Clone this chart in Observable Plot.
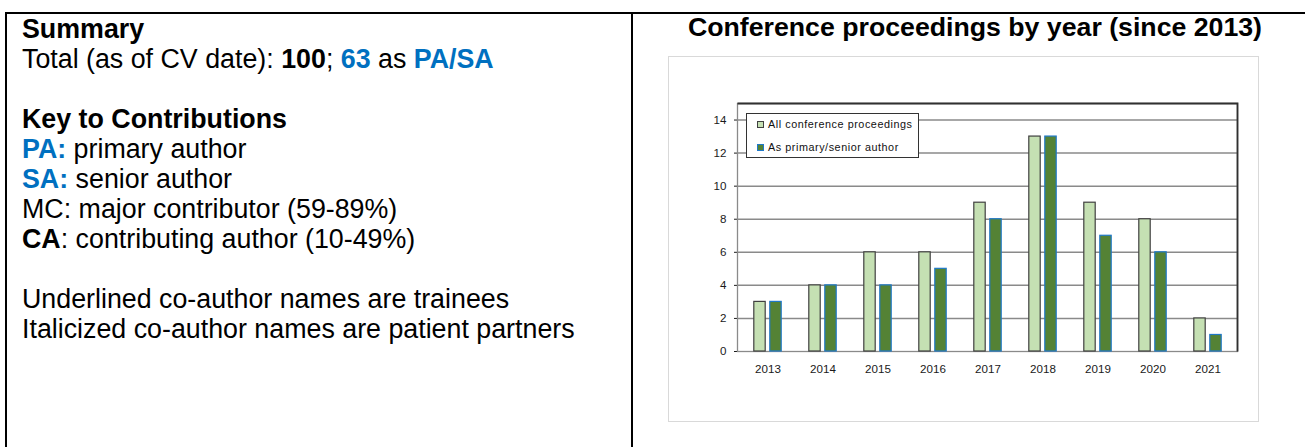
<!DOCTYPE html>
<html>
<head>
<meta charset="utf-8">
<script src="https://cdn.jsdelivr.net/npm/d3@7"></script>
<script src="https://cdn.jsdelivr.net/npm/@observablehq/plot@0.6"></script>
<style>
  html, body { margin: 0; padding: 0; background: #fff; }
  body { width: 1305px; height: 447px; overflow: hidden; position: relative; font-family: "Liberation Sans", Arial, sans-serif; color: #000; }
  .hline { position: absolute; background: #000; }
  .left-text { position: absolute; left: 22px; top: 14px; font-size: 26.8px; line-height: 30px; white-space: nowrap; }
  .left-text b { font-weight: bold; }
  .blue { color: #0070c0; }
  .title { position: absolute; left: 631px; width: 688px; top: 12px; text-align: center; font-size: 26.7px; line-height: 31px; font-weight: bold; white-space: nowrap; }
  .chartbox { position: absolute; left: 668px; top: 56px; width: 591px; height: 366px; box-sizing: border-box; border: 1.5px solid #d9d9d9; }
  .chart { position: absolute; left: 668px; top: 56px; }
  .legend { position: absolute; left: 746px; top: 113px; width: 173px; height: 45px; box-sizing: border-box; border: 1.3px solid #333; background: #fff; font-family: "Liberation Sans", Arial, sans-serif; font-size: 10.8px; letter-spacing: 0.55px; color: #111; }
  .legend .row { position: absolute; left: 10px; display: flex; align-items: center; white-space: nowrap; }
  .legend .sw { width: 7px; height: 7px; box-sizing: border-box; margin-right: 4px; }
</style>
</head>
<body>
<div class="hline" style="left:5px;top:12px;width:1300px;height:1.5px;"></div>
<div class="hline" style="left:5px;top:12px;width:1.5px;height:435px;"></div>
<div class="hline" style="left:631px;top:12px;width:1.5px;height:435px;"></div>

<div class="left-text">
  <div><b>Summary</b></div>
  <div>Total (as of CV date): <b>100</b>; <b class="blue">63</b> as <b class="blue">PA/SA</b></div>
  <div>&nbsp;</div>
  <div><b>Key to Contributions</b></div>
  <div><b class="blue">PA:</b> primary author</div>
  <div><b class="blue">SA:</b> senior author</div>
  <div>MC: major contributor (59-89%)</div>
  <div><b>CA</b>: contributing author (10-49%)</div>
  <div>&nbsp;</div>
  <div>Underlined co-author names are trainees</div>
  <div>Italicized co-author names are patient partners</div>
</div>

<div class="title">Conference proceedings by year (since 2013)</div>
<div class="chartbox"></div>
<div class="chart" id="chart"></div>
<div class="legend" id="legend"></div>

<script>
// ---- data ----
const years = ["2013", "2014", "2015", "2016", "2017", "2018", "2019", "2020", "2021"];
const allProceedings = [3, 4, 6, 6, 9, 13, 9, 8, 2];
const primarySenior = [3, 4, 4, 5, 8, 13, 7, 6, 1];
const seriesNames = ["All conference proceedings", "As primary/senior author"];
const seriesFill = ["#c5e0b3", "#548235"];
const seriesStroke = ["#404040", "#1f78c8"];
const yTicks = [0, 2, 4, 6, 8, 10, 12, 14];

const allRows = years.map((y, i) => ({ year: y, value: allProceedings[i], series: seriesNames[0] }));
const primaryRows = years.map((y, i) => ({ year: y, value: primarySenior[i], series: seriesNames[1] }));

const width = 591, height = 366;
const marginLeft = 69, marginRight = 22, marginTop = 47, marginBottom = 71;
const W = width - marginLeft - marginRight, H = height - marginTop - marginBottom;

const chart = Plot.plot({
  width, height, marginLeft, marginRight, marginTop, marginBottom,
  style: { fontFamily: "'Liberation Sans', Arial, sans-serif", fontSize: "11.6px", color: "#1a1a1a", background: "transparent", overflow: "visible" },
  x: { domain: years, padding: 0, tickSize: 0, tickPadding: 13, label: null },
  y: { domain: [0, 15], ticks: yTicks, tickSize: 3, tickPadding: 8, label: null },
  marks: [
    Plot.ruleY(yTicks.filter(t => t > 0), { stroke: "#8a8a8a", strokeWidth: 1.5 }),
    Plot.frame({ stroke: "#8a8a8a", strokeWidth: 1.3 }),
    Plot.frame({ stroke: "#303030", strokeWidth: 1.8, strokeDasharray: `${W + H} ${W + H}` }),
    Plot.barY(allRows, { x: "year", y: "value", fill: seriesFill[0], stroke: seriesStroke[0], strokeWidth: 1.2, insetLeft: 13.8, insetRight: 29.8 }),
    Plot.barY(primaryRows, { x: "year", y: "value", fill: seriesFill[1], stroke: seriesStroke[1], strokeWidth: 1.2, insetLeft: 29.8, insetRight: 13.8 })
  ]
});
document.getElementById("chart").appendChild(chart);

// legend
const legend = document.getElementById("legend");
seriesNames.forEach((name, i) => {
  const row = document.createElement("div");
  row.className = "row";
  row.style.top = (i === 0 ? 4 : 27) + "px";
  const sw = document.createElement("span");
  sw.className = "sw";
  sw.style.background = seriesFill[i];
  sw.style.border = "1px solid " + seriesStroke[i];
  const t = document.createElement("span");
  t.textContent = name;
  row.appendChild(sw);
  row.appendChild(t);
  legend.appendChild(row);
});
</script>
</body>
</html>
